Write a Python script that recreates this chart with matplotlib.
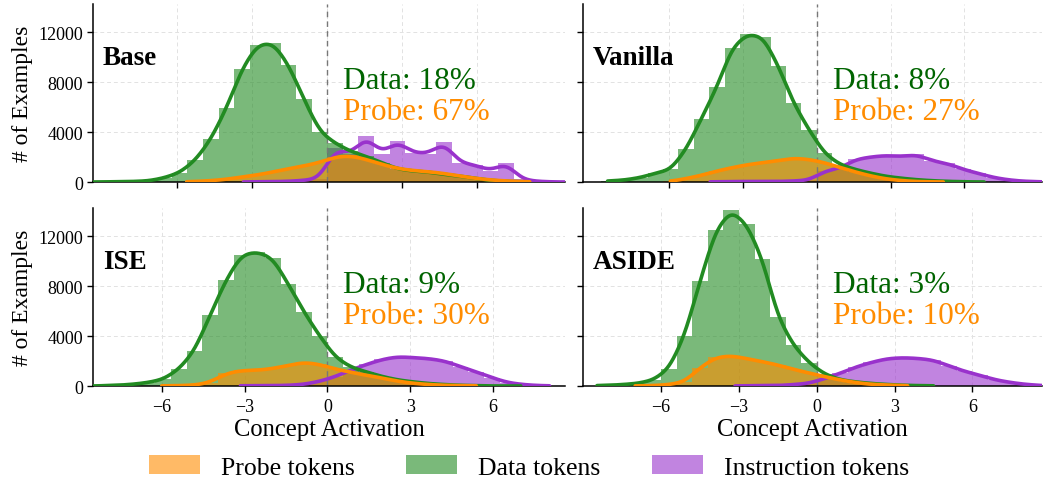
import numpy as np
import matplotlib
matplotlib.use("Agg")
import matplotlib.pyplot as plt
from matplotlib.patches import Patch

plt.rcParams['font.family'] = ['Liberation Serif', 'DejaVu Serif']
plt.rcParams['axes.unicode_minus'] = True

# ---------------------------------------------------------------------------
# Histogram data: counts per bin, bins are [k*w, (k+1)*w] for k = -15 .. 14
# ---------------------------------------------------------------------------
panels = ["Base", "Vanilla", "ISE", "ASIDE"]
bin_widths = [0.622, 0.625, 0.567, 0.600]
first_bin = -15

data_counts = [
    [10, 20, 40, 90, 330, 750, 1730, 3410, 5890, 9050, 11000, 11150, 9400, 6610, 4030,
     3100, 2450, 2050, 1550, 1050, 880, 800, 610, 480, 290, 130, 50, 20, 0, 0],
    [30, 80, 160, 350, 690, 1010, 2610, 5070, 7600, 10750, 11850, 11600, 9300, 6290, 4160,
     2300, 1400, 1000, 700, 450, 300, 180, 100, 50, 20, 0, 0, 0, 0, 0],
    [30, 50, 130, 270, 530, 1330, 2800, 5650, 8450, 10500, 10750, 10250, 8150, 5920, 4000,
     2300, 1500, 1120, 750, 480, 320, 190, 110, 50, 30, 0, 0, 0, 0, 0],
    [30, 50, 110, 210, 480, 1390, 4000, 8400, 12450, 14050, 12950, 10190, 5550, 3250, 1870,
     950, 500, 320, 200, 120, 60, 30, 15, 0, 0, 0, 0, 0, 0, 0],
]
probe_counts = [
    [0, 0, 0, 0, 0, 0, 40, 100, 210, 400, 560, 800, 1070, 1280, 1550,
     2030, 2130, 1810, 1410, 1070, 910, 830, 690, 480, 290, 160, 80, 30, 0, 0],
    [0, 0, 0, 0, 0, 50, 270, 530, 880, 1150, 1390, 1550, 1710, 1920, 1810,
     1550, 1170, 800, 480, 240, 110, 30, 10, 0, 0, 0, 0, 0, 0, 0],
    [0, 0, 0, 0, 10, 30, 60, 270, 1010, 1250, 1250, 1390, 1650, 1920, 1730,
     1350, 1100, 850, 640, 370, 210, 110, 50, 30, 10, 0, 0, 0, 0, 0],
    [0, 0, 0, 10, 30, 110, 320, 1470, 2290, 2430, 2190, 1950, 1680, 1330, 1040,
     750, 480, 270, 130, 80, 30, 0, 0, 0, 0, 0, 0, 0, 0, 0],
]
instr_counts = [
    [0, 0, 0, 0, 0, 0, 0, 0, 0, 0, 20, 30, 50, 130, 270,
     2700, 2210, 3680, 2270, 3280, 2350, 2270, 3200, 1550, 1360, 880, 1550, 210, 50, 10],
    [0, 0, 0, 0, 0, 0, 0, 0, 20, 40, 40, 40, 40, 80, 130,
     880, 1090, 1810, 2000, 2130, 2030, 2210, 1680, 1490, 1010, 690, 350, 160, 50, 30],
    [0, 0, 0, 0, 0, 0, 0, 0, 0, 20, 30, 30, 50, 130, 370,
     750, 1280, 1730, 2130, 2350, 2270, 2190, 2000, 1550, 1120, 670, 270, 110, 30, 10],
    [0, 0, 0, 0, 0, 0, 0, 0, 0, 0, 20, 30, 30, 110, 210,
     590, 1010, 1520, 1890, 2190, 2270, 2210, 2080, 1600, 1170, 850, 480, 270, 110, 50],
]

# support (min, max activation) of each token group
data_range = [(-9.38, 7.8), (-8.5, 6.8), (-8.49, 7.0), (-8.47, 4.5)]
probe_range = [(-5.63, 8.1), (-5.95, 5.14), (-6.0, 5.39), (-7.0, 3.5)]
instr_range = [(-3.36, 9.51), (-4.33, 9.15), (-3.15, 8.04), (-3.15, 8.68)]
x_limits = [(-9.38, 9.51), (-9.5, 9.15), (-8.49, 8.6), (-9.01, 8.68)]

data_pct = [18, 8, 9, 3]
probe_pct = [67, 27, 30, 10]

x_ticks = [-6, -3, 0, 3, 6]
y_ticks = [0, 4000, 8000, 12000]
y_max = 14250

legend_labels = ["Probe tokens", "Data tokens", "Instruction tokens"]
c_probe, c_data, c_instr = "darkorange", "forestgreen", "darkorchid"


def kde_curve(centers, counts, w, lo, hi):
    """Gaussian-smoothed density of the binned counts, in counts per bin."""
    counts = np.asarray(counts, float)
    n = counts.sum()
    mean = np.sum(centers * counts) / n
    std = np.sqrt(np.sum(counts * (centers - mean) ** 2) / n)
    bw = max(std * n ** (-0.2), 0.21)
    step = 0.02
    fine = np.arange(centers[0] - 1.0, centers[-1] + 1.0, step)
    base = np.interp(fine, centers, counts, left=0.0, right=0.0)
    xs = np.linspace(lo, hi, 500)
    z = (xs[:, None] - fine[None, :]) / bw
    kern = np.exp(-0.5 * z ** 2) / (np.sqrt(2 * np.pi) * bw)
    return xs, (kern * base[None, :]).sum(axis=1) * step


fig = plt.figure(figsize=(10.45, 4.85), dpi=100)
W, H = 1045.0, 485.0
boxes = [(93, 5, 565, 183), (583, 5, 1042, 183),
         (93, 209, 565, 387), (583, 209, 1042, 387)]

axes = []
for i, name in enumerate(panels):
    x0, y0, x1, y1 = boxes[i]
    ax = fig.add_axes([x0 / W, 1 - y1 / H, (x1 - x0) / W, (y1 - y0) / H])
    axes.append(ax)
    w = bin_widths[i]
    k = np.arange(first_bin, first_bin + len(data_counts[i]))
    centers = (k + 0.5) * w

    series = [
        (instr_counts[i], instr_range[i], c_instr),
        (data_counts[i], data_range[i], c_data),
        (probe_counts[i], probe_range[i], c_probe),
    ]
    for counts, _, col in series:
        counts = np.asarray(counts)
        m = counts > 0
        ax.bar(centers[m], counts[m], width=w, color=col, alpha=0.6,
               linewidth=0, zorder=1)
    for counts, (lo, hi), col in series:
        xs, ys = kde_curve(centers, counts, w, lo, hi)
        ax.plot(xs, ys, color=col, lw=2.6, zorder=3, solid_capstyle='round')

    ax.axvline(0, color='#777777', lw=1.0, ls=(0, (4, 3)), zorder=2)
    ax.set_xlim(*x_limits[i])
    ax.set_ylim(0, y_max)
    ax.set_xticks(x_ticks)
    ax.set_yticks(y_ticks)
    ax.grid(True, color='#e2e2e2', lw=0.7, ls=(0, (4, 3)), zorder=0)
    ax.set_axisbelow(True)
    for s in ('top', 'right'):
        ax.spines[s].set_visible(False)
    for s in ('left', 'bottom'):
        ax.spines[s].set_linewidth(1.1)
    ax.tick_params(labelsize=13, length=4, width=1.0, pad=3)
    ax.tick_params(axis='x', pad=5)

    if i < 2:
        ax.tick_params(labelbottom=False)
    else:
        ax.set_xticklabels([f"\u2212{abs(t)}" if t < 0 else str(t) for t in x_ticks])
        ax.set_xlabel("Concept Activation", fontsize=17.7, labelpad=2)
    if i % 2 == 1:
        ax.tick_params(labelleft=False)
    else:
        ax.set_ylabel("# of Examples", fontsize=17, labelpad=4)

    ax.text(0.021, 0.665, name, transform=ax.transAxes, fontsize=19.5,
            fontweight='bold', ha='left', va='baseline')
    tr = ax.get_xaxis_transform()
    ax.annotate(f"Data: {data_pct[i]}%", xy=(0, 0.527), xycoords=tr,
                xytext=(11.5, 0), textcoords='offset points',
                fontsize=22.5, color='darkgreen', ha='left', va='baseline')
    ax.annotate(f"Probe: {probe_pct[i]}%", xy=(0, 0.354), xycoords=tr,
                xytext=(11.5, 0), textcoords='offset points',
                fontsize=22.5, color=c_probe, ha='left', va='baseline')

handles = [Patch(facecolor=c, alpha=0.6, edgecolor='none')
           for c in (c_probe, c_data, c_instr)]
fig.legend(handles, legend_labels, loc='center', bbox_to_anchor=(0.506, 0.035),
           ncol=3, frameon=False, fontsize=18.5, handlelength=2.0,
           handleheight=0.75, handletextpad=0.8, columnspacing=2.0)

fig.savefig("out.png", dpi=100)
